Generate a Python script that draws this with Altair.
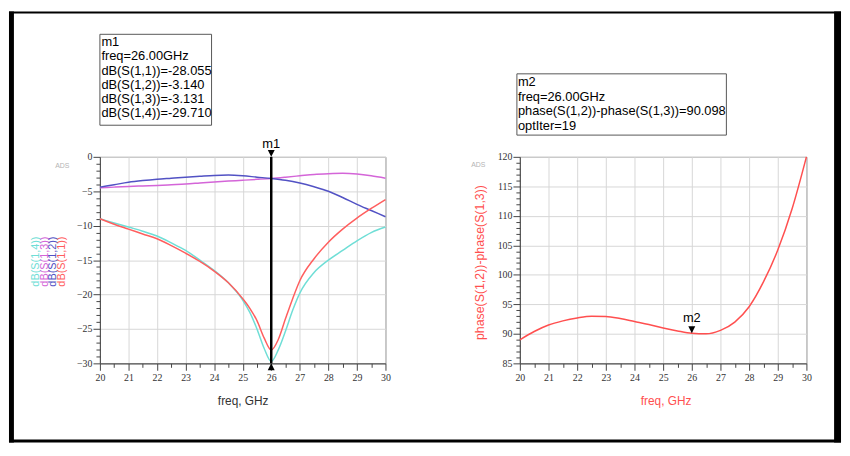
import altair as alt
import pandas as pd

# ---------------- data ----------------
freq_dip = [20, 20.5, 21, 21.5, 22, 22.5, 23, 23.5, 24, 24.5, 25, 25.25, 25.5, 25.75,
            26, 26.25, 26.5, 26.75, 27, 27.5, 28, 28.5, 29, 29.5, 30]
s11 = [-9.0, -9.8, -10.5, -11.2, -11.9, -12.9, -14.0, -15.2, -16.6, -18.3, -20.6, -22.0,
       -23.8, -26.3, -28.055, -26.5, -23.5, -20.6, -18.0, -14.8, -12.4, -10.5, -8.9, -7.5, -6.2]
s14 = [-9.0, -9.6, -10.2, -10.8, -11.5, -12.5, -13.6, -15.0, -16.5, -18.3, -20.8, -22.6,
       -25.0, -27.8, -29.71, -28.0, -25.3, -22.3, -19.8, -16.8, -15.0, -13.6, -12.2, -11.0, -10.2]

freq_half = [20, 20.5, 21, 21.5, 22, 22.5, 23, 23.5, 24, 24.5, 25, 25.5, 26, 26.5, 27,
             27.5, 28, 28.5, 29, 29.5, 30]
s12 = [-4.4, -4.05, -3.7, -3.45, -3.25, -3.1, -2.95, -2.82, -2.7, -2.65, -2.75, -2.95,
       -3.14, -3.4, -3.8, -4.35, -5.0, -5.9, -6.9, -7.8, -8.7]
s13 = [-4.5, -4.4, -4.3, -4.22, -4.15, -4.05, -3.95, -3.8, -3.65, -3.52, -3.4, -3.27,
       -3.131, -2.95, -2.75, -2.55, -2.45, -2.4, -2.5, -2.75, -3.1]
phase_diff = [89.0, 90.4, 91.5, 92.2, 92.7, 93.0, 92.95, 92.6, 92.1, 91.6, 91.0, 90.5,
              90.098, 90.0, 90.6, 92.0, 94.6, 98.8, 104.2, 111.2, 120.0]

series_names = ["dB(S(1,4))", "dB(S(1,3))", "dB(S(1,2))", "dB(S(1,1))"]
series_colors = ["#6fded6", "#d465d8", "#5252c4", "#ff5e5e"]

x_ticks = [20 + 0.5 * i for i in range(21)]
y_ticks_left = list(range(-30, 1))
y_ticks_right = list(range(85, 121))

m1_lines = ["m1", "freq=26.00GHz", "dB(S(1,1))=-28.055", "dB(S(1,2))=-3.140",
            "dB(S(1,3))=-3.131", "dB(S(1,4))=-29.710"]
m2_lines = ["m2", "freq=26.00GHz", "phase(S(1,2))-phase(S(1,3))=90.098", "optIter=19"]
marker_freq = 26
m2_value = 90.098

rows = []
for f, v in zip(freq_dip, s14):
    rows.append({"freq": f, "val": v, "s": "dB(S(1,4))"})
for f, v in zip(freq_half, s13):
    rows.append({"freq": f, "val": v, "s": "dB(S(1,3))"})
for f, v in zip(freq_half, s12):
    rows.append({"freq": f, "val": v, "s": "dB(S(1,2))"})
for f, v in zip(freq_dip, s11):
    rows.append({"freq": f, "val": v, "s": "dB(S(1,1))"})
df_left = pd.DataFrame(rows)
df_right = pd.DataFrame({"freq": freq_half, "val": phase_diff})

one = alt.Data(values=[{"a": 0}])

TICKFONT = "Liberation Sans Narrow"
FONT = "Liberation Sans"
RED = "#ff4f4f"
W, H = 289, 209


def x_axis():
    return alt.Axis(values=x_ticks, title=None, grid=True, labelOverlap=False,
                    labelExpr="datum.value % 1 === 0 ? format(datum.value, 'd') : ''",
                    tickSize={"condition": {"test": "datum.value % 1 === 0", "value": 7}, "value": 4},
                    gridOpacity={"condition": {"test": "datum.value % 1 === 0", "value": 1}, "value": 0},
                    labelFlush=False, labelFont=TICKFONT, labelFontSize=10, labelColor="#333",
                    labelPadding=2, tickColor="#444", domainColor="#444", gridColor="#d6d6d6")


def y_axis(vals):
    return alt.Axis(values=vals, title=None, grid=True, labelOverlap=False,
                    labelExpr="datum.value % 5 === 0 ? format(datum.value, 'd') : ''",
                    tickSize={"condition": {"test": "datum.value % 5 === 0", "value": 7}, "value": 4},
                    gridOpacity={"condition": {"test": "datum.value % 5 === 0", "value": 1}, "value": 0},
                    labelFont=TICKFONT, labelFontSize=10, labelColor="#333", labelPadding=1,
                    tickColor="#444", domainColor="#444", gridColor="#d6d6d6")


def rect(x1, x2, y1, y2, fill="black", stroke=None):
    kw = {"fill": fill}
    if stroke:
        kw.update(stroke=stroke, strokeWidth=1)
    return alt.Chart(one).mark_rect(**kw).encode(
        x=alt.value(x1), x2=alt.value(x2), y=alt.value(y1), y2=alt.value(y2))


def label(txt, x, y, size=12, color="black", angle=None, align="center", baseline="middle",
          line_height=None):
    kw = dict(fontSize=size, color=color, font=FONT, align=align, baseline=baseline)
    if angle is not None:
        kw["angle"] = angle
    if line_height:
        kw["lineHeight"] = line_height
    return alt.Chart(one).mark_text(**kw).encode(
        x=alt.value(x), y=alt.value(y), text=alt.value(txt))


def xdat(v):
    return alt.X(datum=v, axis=x_axis())


def ydat(v, vals):
    return alt.Y(datum=v, axis=y_axis(vals))


# ---------------- left panel ----------------
frame = [
    rect(-92, 750, -147, -145),
    rect(-92, -87, -147, 289),
    rect(743, 750, -147, 289),
    rect(-92, 750, 286, 289),
]

lines_left = alt.Chart(df_left).mark_line(strokeWidth=1.5, interpolate="monotone").encode(
    x=alt.X("freq:Q", scale=alt.Scale(domain=[20, 30], nice=False, zero=False), axis=x_axis()),
    y=alt.Y("val:Q", scale=alt.Scale(domain=[-30, 0], nice=False, zero=False),
            axis=y_axis(y_ticks_left)),
    color=alt.Color("s:N", scale=alt.Scale(domain=series_names, range=series_colors), legend=None),
    detail="s:N",
)

m1_rule = alt.Chart(one).mark_rule(color="black", strokeWidth=2.5).encode(
    x=xdat(marker_freq), y=alt.value(0), y2=alt.value(H))
m1_top = alt.Chart(one).mark_point(shape="M-0.5,-1L0.5,-1L0,0Z", filled=True, color="black",
                                   size=196, opacity=1).encode(x=xdat(marker_freq), y=alt.value(0))
m1_bot = alt.Chart(one).mark_point(shape="M-0.5,1L0.5,1L0,0Z", filled=True, color="black",
                                   size=196, opacity=1).encode(x=xdat(marker_freq), y=alt.value(H))
m1_lbl = alt.Chart(one).mark_text(fontSize=13, font=FONT, color="black").encode(
    x=xdat(marker_freq), y=alt.value(-13), text=alt.value("m1"))

legend_layers = []
for i, (nm, col) in enumerate(zip(series_names, series_colors)):
    legend_layers.append(label(nm, -65 + 9 * i, 106, size=11, color=col, angle=270))

left = alt.layer(
    *frame,
    lines_left,
    m1_rule, m1_top, m1_bot, m1_lbl,
    rect(0, 113, -124, -32, fill="white", stroke="#555"),
    label(m1_lines, 1.5, -122, size=13, align="left", baseline="top", line_height=14.4),
    label("ADS", -38, 9, size=7, color="#b4b4b4"),
    *legend_layers,
    label("freq, GHz", 145, 247, size=12, color="#333"),
).properties(width=W, height=H)

# ---------------- right panel ----------------
line_right = alt.Chart(df_right).mark_line(strokeWidth=1.5, color=RED, interpolate="monotone").encode(
    x=alt.X("freq:Q", scale=alt.Scale(domain=[20, 30], nice=False, zero=False), axis=x_axis()),
    y=alt.Y("val:Q", scale=alt.Scale(domain=[85, 120], nice=False, zero=False),
            axis=y_axis(y_ticks_right)),
)
m2_tri = alt.Chart(one).mark_point(shape="M-0.5,-1L0.5,-1L0,0Z", filled=True, color="black",
                                   size=196, opacity=1).encode(
    x=xdat(marker_freq), y=ydat(m2_value, y_ticks_right))
m2_lbl = alt.Chart(one).mark_text(fontSize=13, font=FONT, color="black", dy=-15).encode(
    x=xdat(marker_freq), y=ydat(m2_value, y_ticks_right), text=alt.value("m2"))

right = alt.layer(
    line_right, m2_tri, m2_lbl,
    rect(-3, 209, -84, -22, fill="white", stroke="#555"),
    label(m2_lines, -2, -82, size=13, align="left", baseline="top", line_height=15),
    label("ADS", -42, 8, size=7, color="#b4b4b4"),
    label("phase(S(1,2))-phase(S(1,3))", -40, 107, size=12.5, color=RED, angle=270),
    label("freq, GHz", 148, 247, size=12, color=RED),
).properties(width=W + 1, height=H)

chart = alt.HConcatChart(hconcat=[left, right], spacing=136, bounds="flush").properties(
    padding=0, background="white"
).configure_view(stroke="#777", strokeWidth=1)

chart.save("out.html", embed_options={"renderer": "svg", "actions": False})
